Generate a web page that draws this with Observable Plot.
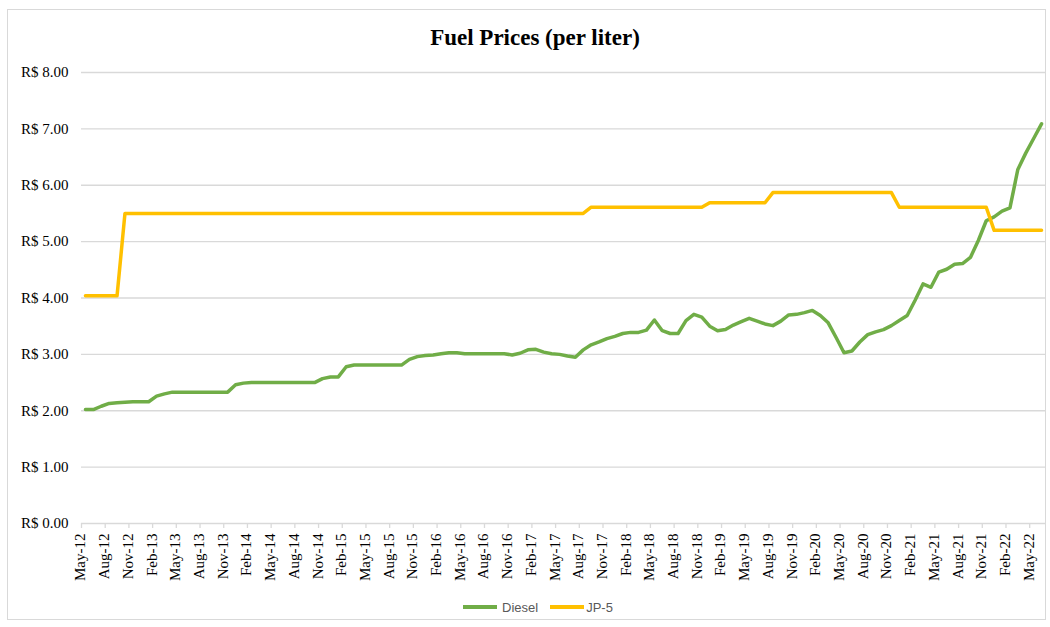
<!DOCTYPE html>
<html>
<head>
<meta charset="utf-8">
<script src="https://cdn.jsdelivr.net/npm/d3@7"></script>
<script src="https://cdn.jsdelivr.net/npm/@observablehq/plot@0.6"></script>
<style>
  body { margin: 0; background: #fff; }
  #frame { position: absolute; left: 7px; top: 9px; width: 1039px; height: 611px; border: 1px solid #d9d9d9; box-sizing: border-box; }
  #title { position: absolute; left: 0; top: 26px; width: 1070px; text-align: center; font-family: "Liberation Serif", "Times New Roman", serif; font-weight: bold; font-size: 23px; line-height: 23px; color: #000; }
  #chart { position: absolute; left: 0; top: 60px; }
  #legend { position: absolute; left: 463px; top: 598px; display: flex; align-items: center; font-family: "Liberation Sans", Arial, sans-serif; font-size: 13px; color: #595959; height: 18px; }
  .sw { display: inline-block; width: 34px; height: 4px; }
</style>
</head>
<body>
<div id="frame"></div>
<div id="title">Fuel Prices (per liter)</div>
<div id="chart"></div>
<div id="legend"></div>
<script>
const months = [
  "May-12","Jun-12","Jul-12","Aug-12","Sep-12","Oct-12","Nov-12","Dec-12",
  "Jan-13","Feb-13","Mar-13","Apr-13","May-13","Jun-13","Jul-13","Aug-13","Sep-13","Oct-13","Nov-13","Dec-13",
  "Jan-14","Feb-14","Mar-14","Apr-14","May-14","Jun-14","Jul-14","Aug-14","Sep-14","Oct-14","Nov-14","Dec-14",
  "Jan-15","Feb-15","Mar-15","Apr-15","May-15","Jun-15","Jul-15","Aug-15","Sep-15","Oct-15","Nov-15","Dec-15",
  "Jan-16","Feb-16","Mar-16","Apr-16","May-16","Jun-16","Jul-16","Aug-16","Sep-16","Oct-16","Nov-16","Dec-16",
  "Jan-17","Feb-17","Mar-17","Apr-17","May-17","Jun-17","Jul-17","Aug-17","Sep-17","Oct-17","Nov-17","Dec-17",
  "Jan-18","Feb-18","Mar-18","Apr-18","May-18","Jun-18","Jul-18","Aug-18","Sep-18","Oct-18","Nov-18","Dec-18",
  "Jan-19","Feb-19","Mar-19","Apr-19","May-19","Jun-19","Jul-19","Aug-19","Sep-19","Oct-19","Nov-19","Dec-19",
  "Jan-20","Feb-20","Mar-20","Apr-20","May-20","Jun-20","Jul-20","Aug-20","Sep-20","Oct-20","Nov-20","Dec-20",
  "Jan-21","Feb-21","Mar-21","Apr-21","May-21","Jun-21","Jul-21","Aug-21","Sep-21","Oct-21","Nov-21","Dec-21",
  "Jan-22","Feb-22","Mar-22","Apr-22","May-22","Jun-22"
];

const tickLabels = [
  "May-12","Aug-12","Nov-12","Feb-13","May-13","Aug-13","Nov-13","Feb-14","May-14","Aug-14","Nov-14",
  "Feb-15","May-15","Aug-15","Nov-15","Feb-16","May-16","Aug-16","Nov-16","Feb-17","May-17","Aug-17",
  "Nov-17","Feb-18","May-18","Aug-18","Nov-18","Feb-19","May-19","Aug-19","Nov-19","Feb-20","May-20",
  "Aug-20","Nov-20","Feb-21","May-21","Aug-21","Nov-21","Feb-22","May-22"
];

const diesel = [
  2.02,2.02,2.08,2.13,2.14,2.15,2.16,2.16,
  2.16,2.26,2.30,2.33,2.33,2.33,2.33,2.33,2.33,2.33,2.33,2.46,
  2.49,2.50,2.50,2.50,2.50,2.50,2.50,2.50,2.50,2.50,2.57,2.60,
  2.60,2.78,2.81,2.81,2.81,2.81,2.81,2.81,2.81,2.91,2.96,2.98,
  2.99,3.01,3.03,3.03,3.01,3.01,3.01,3.01,3.01,3.01,2.99,3.02,
  3.08,3.09,3.04,3.01,3.00,2.97,2.95,3.08,3.17,3.22,3.28,3.32,
  3.37,3.39,3.39,3.43,3.61,3.42,3.37,3.37,3.60,3.71,3.66,3.50,
  3.42,3.44,3.52,3.58,3.64,3.59,3.54,3.51,3.59,3.70,3.71,3.74,
  3.78,3.69,3.56,3.30,3.03,3.06,3.22,3.35,3.40,3.44,3.51,3.60,
  3.69,3.96,4.25,4.19,4.46,4.51,4.60,4.61,4.72,5.02,5.37,5.44,
  5.54,5.60,6.28,6.57,6.83,7.09
];

const jp5 = [
  4.04,4.04,4.04,4.04,4.04,5.50,5.50,5.50,
  5.50,5.50,5.50,5.50,5.50,5.50,5.50,5.50,5.50,5.50,5.50,5.50,
  5.50,5.50,5.50,5.50,5.50,5.50,5.50,5.50,5.50,5.50,5.50,5.50,
  5.50,5.50,5.50,5.50,5.50,5.50,5.50,5.50,5.50,5.50,5.50,5.50,
  5.50,5.50,5.50,5.50,5.50,5.50,5.50,5.50,5.50,5.50,5.50,5.50,
  5.50,5.50,5.50,5.50,5.50,5.50,5.50,5.50,5.61,5.61,5.61,5.61,
  5.61,5.61,5.61,5.61,5.61,5.61,5.61,5.61,5.61,5.61,5.61,5.69,
  5.69,5.69,5.69,5.69,5.69,5.69,5.69,5.87,5.87,5.87,5.87,5.87,
  5.87,5.87,5.87,5.87,5.87,5.87,5.87,5.87,5.87,5.87,5.87,5.61,
  5.61,5.61,5.61,5.61,5.61,5.61,5.61,5.61,5.61,5.61,5.61,5.20,
  5.20,5.20,5.20,5.20,5.20,5.20
];

const yTicks = [0, 1, 2, 3, 4, 5, 6, 7, 8];

const seriesNames = ["Diesel", "JP-5"];
const seriesColors = ["#70AD47", "#FFC000"];

const data = months.map((m, i) => ({i, month: m, diesel: diesel[i], jp5: jp5[i]}));
const tickPos = tickLabels.map(l => months.indexOf(l));
const boundaries = tickPos.map(p => p - 0.5);
const fmt = d => "R$ " + d.toFixed(2);
const serif = "'Liberation Serif', 'Times New Roman', serif";

const chart = Plot.plot({
  width: 1050,
  height: 530,
  marginLeft: 81,
  marginRight: 5,
  marginTop: 12,
  marginBottom: 67,
  x: {domain: [-0.5, months.length - 0.5], axis: null},
  y: {domain: [0, 8], axis: null},
  marks: [
    Plot.ruleY(yTicks, {y: d => d, stroke: "#d9d9d9", strokeWidth: 1.3}),
    Plot.ruleX(boundaries, {x: d => d, y1: () => 0, y2: () => 0, insetBottom: -5, stroke: "#d9d9d9", strokeWidth: 1.3}),
    Plot.text(yTicks, {y: d => d, text: fmt, frameAnchor: "left", textAnchor: "end", dx: -13, fontSize: 15, fontFamily: serif, fill: "#000"}),
    Plot.text(tickLabels, {x: d => months.indexOf(d), text: d => d, frameAnchor: "bottom", rotate: -90, textAnchor: "end", dy: 10, fontSize: 15, fontFamily: serif, fill: "#000"}),
    Plot.lineY(data, {x: "i", y: "diesel", stroke: seriesColors[0], strokeWidth: 3.5, strokeLinejoin: "round", strokeLinecap: "round"}),
    Plot.lineY(data, {x: "i", y: "jp5", stroke: seriesColors[1], strokeWidth: 3.5, strokeLinejoin: "round", strokeLinecap: "round"})
  ]
});
document.getElementById("chart").appendChild(chart);

const legend = document.getElementById("legend");
seriesNames.forEach((name, k) => {
  const item = document.createElement("span");
  item.style.display = "inline-flex";
  item.style.alignItems = "center";
  item.style.marginRight = k === 0 ? "12px" : "0";
  const sw = document.createElement("span");
  sw.className = "sw";
  sw.style.background = seriesColors[k];
  sw.style.marginRight = k === 0 ? "5px" : "2px";
  const t = document.createElement("span");
  t.textContent = name;
  item.appendChild(sw);
  item.appendChild(t);
  legend.appendChild(item);
});
</script>
</body>
</html>
